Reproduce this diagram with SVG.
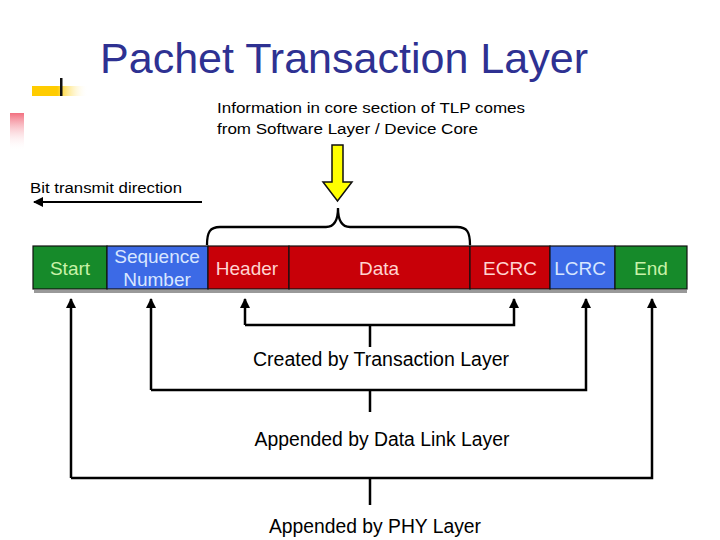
<svg xmlns="http://www.w3.org/2000/svg" width="720" height="540" viewBox="0 0 720 540">
<defs>
<linearGradient id="gy" x1="0" y1="0" x2="1" y2="0">
<stop offset="0" stop-color="#ffcc00"/><stop offset="0.45" stop-color="#ffcc00"/><stop offset="1" stop-color="#ffffff" stop-opacity="0"/>
</linearGradient>
<linearGradient id="gp" x1="0" y1="0" x2="0" y2="1">
<stop offset="0" stop-color="#f27080"/><stop offset="1" stop-color="#ffffff" stop-opacity="0"/>
</linearGradient>
<marker id="ah" viewBox="0 0 10 10" refX="9" refY="5" markerWidth="4" markerHeight="4" markerUnits="strokeWidth" orient="auto">
<path d="M0,0 L10,5 L0,10 z" fill="#000"/>
</marker>
<marker id="ah2" viewBox="0 0 10 10" refX="9" refY="5" markerWidth="6" markerHeight="5" markerUnits="strokeWidth" orient="auto">
<path d="M0,0 L10,5 L0,10 z" fill="#000"/>
</marker>
</defs>
<style>
.t{font-family:"Liberation Sans",Arial,sans-serif;fill:#000}
.c{font-family:"Liberation Sans",Arial,sans-serif;font-size:19px;text-anchor:middle}
.ln{stroke:#000;stroke-width:2.5;fill:none}
.cell{stroke:#111;stroke-width:1.2}
</style>
<rect width="720" height="540" fill="#fff"/>
<g id="decor">
<rect x="32" y="86" width="56" height="10" fill="url(#gy)"/>
<rect x="60" y="78" width="2.5" height="18" fill="#111"/>
<rect x="10" y="113" width="14" height="38" fill="url(#gp)"/>
</g>
<text id="title" x="100" y="73" font-family="'Liberation Sans',Arial,sans-serif" font-size="43" fill="#2e3192" textLength="488" lengthAdjust="spacingAndGlyphs">Pachet Transaction Layer</text>
<g id="info">
<text class="t" x="217" y="113" font-size="15.5" textLength="308" lengthAdjust="spacingAndGlyphs">Information in core section of TLP comes</text>
<text class="t" x="217" y="134" font-size="15.5" textLength="261" lengthAdjust="spacingAndGlyphs">from Software Layer / Device Core</text>
</g>
<g id="bitdir">
<text class="t" x="30" y="193" font-size="15.5" textLength="152" lengthAdjust="spacingAndGlyphs">Bit transmit direction</text>
<line x1="202" y1="202" x2="34" y2="202" stroke="#000" stroke-width="2" marker-end="url(#ah2)"/>
</g>
<g id="yarrow">
<polygon points="332,145 343,145 343,182 352,182 337.5,201 323,182 332,182" fill="#ffff00" stroke="#111" stroke-width="1.5"/>
</g>
<g id="brace">
<path d="M207,245 C207,232 210,227 220,227 L326,227 C334,227 338,220 338,208 C338,220 342,227 350,227 L457,227 C467,227 470,232 470,245" fill="none" stroke="#000" stroke-width="2.3"/>
</g>
<g id="packet">
<rect x="34" y="290" width="653" height="3" fill="#999"/>
<g id="start"><rect class="cell" x="33" y="246" width="74" height="43" fill="#168a2a"/><text class="c" x="70" y="275" fill="#c8f2a8">Start</text></g>
<g id="seq"><rect class="cell" x="107" y="246" width="101" height="43" fill="#3c6ae6"/><text class="c" x="157" y="263" fill="#d8e6ff">Sequence</text><text class="c" x="157" y="286" fill="#d8e6ff">Number</text></g>
<g id="header"><rect class="cell" x="208" y="246" width="81" height="43" fill="#c80008"/><text class="c" x="247" y="275" fill="#ffd4d0">Header</text></g>
<g id="data"><rect class="cell" x="289" y="246" width="181" height="43" fill="#c80008"/><text class="c" x="379" y="275" fill="#ffd4d0">Data</text></g>
<g id="ecrc"><rect class="cell" x="470" y="246" width="80" height="43" fill="#c80008"/><text class="c" x="510" y="275" fill="#ffd4d0">ECRC</text></g>
<g id="lcrc"><rect class="cell" x="550" y="246" width="65" height="43" fill="#3c6ae6"/><text class="c" x="580" y="275" fill="#d8e6ff">LCRC</text></g>
<g id="end"><rect class="cell" x="615" y="246" width="72" height="43" fill="#168a2a"/><text class="c" x="651" y="275" fill="#c8f2a8">End</text></g>
</g>
<g id="connectors">
<path class="ln" d="M245,325 L245,299" marker-end="url(#ah)"/>
<path class="ln" d="M245,325 L514,325 L514,299" marker-end="url(#ah)"/>
<line class="ln" x1="370" y1="325" x2="370" y2="347"/>
<path class="ln" d="M151,390 L151,299" marker-end="url(#ah)"/>
<path class="ln" d="M151,390 L586,390 L586,299" marker-end="url(#ah)"/>
<line class="ln" x1="370" y1="390" x2="370" y2="412"/>
<path class="ln" d="M71,478 L71,299" marker-end="url(#ah)"/>
<path class="ln" d="M71,478 L652,478 L652,299" marker-end="url(#ah)"/>
<line class="ln" x1="370" y1="478" x2="370" y2="505"/>
</g>
<g id="labels">
<text class="t" x="381" y="366" font-size="19.5" text-anchor="middle" textLength="256" lengthAdjust="spacingAndGlyphs">Created by Transaction Layer</text>
<text class="t" x="382" y="446" font-size="19.5" text-anchor="middle" textLength="255" lengthAdjust="spacingAndGlyphs">Appended by Data Link Layer</text>
<text class="t" x="375" y="533" font-size="19.5" text-anchor="middle" textLength="212" lengthAdjust="spacingAndGlyphs">Appended by PHY Layer</text>
</g>
</svg>
